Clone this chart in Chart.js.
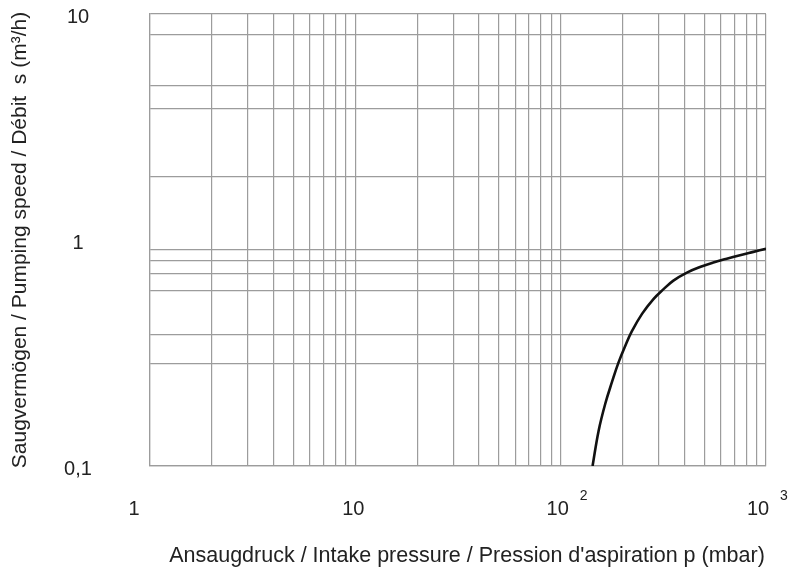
<!DOCTYPE html>
<html>
<head>
<meta charset="utf-8">
<script src="https://cdn.jsdelivr.net/npm/chart.js@4/dist/chart.umd.min.js"></script>
<style>
  html, body { margin: 0; padding: 0; background: #fff; }
  canvas { display: block; }
</style>
</head>
<body>
<canvas id="chart" width="789" height="571"></canvas>
<script>
// pumping speed curve
var pressure = [143, 153, 165, 178, 191, 206, 222, 249, 283, 317, 354, 412,
                477, 554, 644, 747, 868, 1000];
var speed = [0.1, 0.143, 0.189, 0.236, 0.286, 0.339, 0.394, 0.471, 0.548,
             0.606, 0.661, 0.717, 0.759, 0.795, 0.827, 0.857, 0.886, 0.914];

// grid lines as drawn in the original
var xGrid = [1, 2, 3, 4, 5, 6, 7, 8, 9, 10, 20, 30, 40, 50, 60, 70, 80, 90,
             100, 200, 300, 400, 500, 600, 700, 800, 900, 1000];
var yGrid = [10, 8.1, 4.8, 3.8, 1.9, 0.91, 0.81, 0.71, 0.6, 0.38, 0.285, 0.1];

// tick labels
var xTickValues = [1, 10, 100, 1000];
var xTickText = ['1', '10', '10', '10'];
var xTickSup = ['', '', '2', '3'];
var yTickValues = [10, 1, 0.1];
var yTickText = ['10', '1', '0,1'];

var xTitle = "Ansaugdruck / Intake pressure / Pression d'aspiration p (mbar)";
var yTitle = 'Saugvermögen / Pumping speed / Débit  s (m³/h)';

var gridColor = '#9c9c9c';
var textColor = '#222';
var fontFamily = '"Liberation Sans", Arial, sans-serif';

var labelsPlugin = {
    id: 'labels',
    afterDraw: function (chart) {
        var ctx = chart.ctx;
        var xs = chart.scales.x;
        var ys = chart.scales.y;
        var nudge = [-16, -2, -3, -8];
        ctx.save();
        ctx.fillStyle = textColor;

        // x tick labels
        ctx.textBaseline = 'alphabetic';
        xTickValues.forEach(function (v, i) {
            var px = xs.getPixelForValue(v) + nudge[i];
            ctx.font = '20px ' + fontFamily;
            ctx.textAlign = 'center';
            ctx.fillText(xTickText[i], px, 515);
            if (xTickSup[i]) {
                var w = ctx.measureText(xTickText[i]).width;
                ctx.font = '14px ' + fontFamily;
                ctx.textAlign = 'left';
                ctx.fillText(xTickSup[i], px + w / 2 + 11, 500);
            }
        });

        // y tick labels
        ctx.font = '20px ' + fontFamily;
        ctx.textAlign = 'center';
        ctx.textBaseline = 'middle';
        yTickValues.forEach(function (v, i) {
            ctx.fillText(yTickText[i], 78, ys.getPixelForValue(v) + 3);
        });

        // axis titles
        ctx.font = '21.5px ' + fontFamily;
        ctx.textAlign = 'center';
        ctx.textBaseline = 'alphabetic';
        ctx.fillText(xTitle, 467, 562);

        ctx.font = '21px ' + fontFamily;
        ctx.translate(20, 240);
        ctx.rotate(-Math.PI / 2);
        ctx.textBaseline = 'middle';
        ctx.fillText(yTitle, 0, 0);
        ctx.restore();
    }
};

function gridTicks(values) {
    return function (scale) {
        scale.ticks = values.map(function (v) { return { value: v }; });
    };
}

new Chart(document.getElementById('chart'), {
    type: 'line',
    data: {
        datasets: [{
            data: pressure.map(function (p, i) { return { x: p, y: speed[i] }; }),
            borderColor: '#111',
            borderWidth: 2.6,
            pointRadius: 0,
            fill: false,
            tension: 0.4
        }]
    },
    options: {
        responsive: false,
        animation: false,
        devicePixelRatio: 1,
        layout: { padding: { top: 14, right: 23, left: 0, bottom: 0 } },
        scales: {
            x: {
                type: 'logarithmic',
                min: 1,
                max: 1000,
                afterBuildTicks: gridTicks(xGrid),
                afterFit: function (scale) { scale.height = 105; },
                ticks: { display: false },
                grid: { color: gridColor, lineWidth: 1.2, drawTicks: false },
                border: { color: gridColor, width: 1.2 }
            },
            y: {
                type: 'logarithmic',
                min: 0.1,
                max: 10,
                afterBuildTicks: gridTicks(yGrid),
                afterFit: function (scale) { scale.width = 150; },
                ticks: { display: false },
                grid: { color: gridColor, lineWidth: 1.2, drawTicks: false },
                border: { color: gridColor, width: 1.2 }
            }
        },
        plugins: {
            legend: { display: false },
            tooltip: { enabled: false }
        }
    },
    plugins: [labelsPlugin]
});
</script>
</body>
</html>
